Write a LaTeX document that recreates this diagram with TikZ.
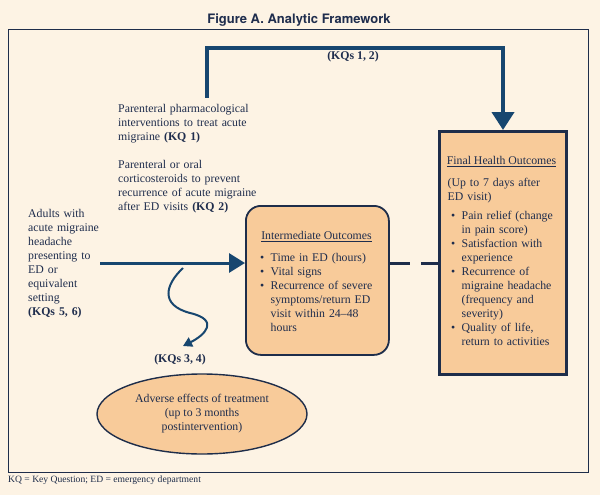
\documentclass[tikz,border=0pt]{standalone}
\usepackage{fontspec}
\setmainfont{Liberation Serif}
\newfontfamily\headfont{TeX Gyre Heros}
\usetikzlibrary{arrows.meta, positioning, shapes.geometric}

\definecolor{pagebg}{HTML}{FDF3E4}
\definecolor{framenavy}{HTML}{1E2D4A}
\definecolor{flowblue}{HTML}{17466F}
\definecolor{inknavy}{HTML}{1F2D4D}
\definecolor{peach}{HTML}{F8CB9A}

% depth-only strut, keeps the line pitch after a wrapped bullet
\newcommand{\dstrut}{\rule[-\dp\strutbox]{0pt}{\dp\strutbox}}
% bullet line, wrapped lines kept under the text
\newcommand{\bitem}[1]{\par\ifdim\prevdepth>-999pt\prevdepth=\dp\strutbox\fi
  \noindent\makebox[14pt][l]{\hspace{3.5pt}\textbullet}\parbox[t]{110pt}{\raggedright #1\dstrut}}

\tikzset{
  bodytext/.style={font=\fontsize{11.8}{14}\selectfont, text=inknavy, inner sep=0pt},
  txtblock/.style={bodytext, anchor=north west, align=left, text width=#1},
  outerframe/.style={draw=framenavy, line width=1.3pt, minimum width=580pt, minimum height=443pt, anchor=north west, inner sep=0pt},
  intbox/.style={draw=framenavy, line width=1.8pt, fill=peach, rounded corners=15pt, minimum width=143pt, minimum height=149pt, anchor=north west, inner sep=0pt},
  finbox/.style={draw=framenavy, line width=3pt, fill=peach, minimum width=127pt, minimum height=243pt, anchor=north west, inner sep=0pt},
  adverse/.style={ellipse, draw=framenavy, line width=1.4pt, fill=peach, minimum width=210pt, minimum height=80pt, inner sep=0pt, align=center, font=\fontsize{11.8}{14}\selectfont, text=inknavy},
  kqlabel/.style={bodytext, font=\fontsize{11.8}{14}\selectfont\bfseries},
  flowtop/.style={draw=flowblue, line width=4pt, -{Triangle[length=18pt,width=22pt]}},
  flowmain/.style={draw=flowblue, line width=3pt, -{Triangle[length=16pt,width=19pt]}},
  flowdash/.style={draw=framenavy, line width=3pt, dash pattern=on 20pt off 11pt},
  flowharm/.style={draw=flowblue, line width=2pt, -{Triangle[length=9pt,width=10pt]}}
}

\begin{document}
\begin{tikzpicture}[x=1pt, y=-1pt]
  \useasboundingbox[fill=pagebg] (0,0) rectangle (600,495);

  % title and frame
  \node[anchor=base, inner sep=0pt, text=inknavy, font=\headfont\fontsize{13}{15}\selectfont\bfseries] (title) at (299,24) {Figure A. Analytic Framework};
  \node[outerframe] (frame) at (8,29) {};

  % boxes
  \node[intbox] (int) at (245,205) {};
  \node[finbox] (fin) at (438,130) {};
  \node[adverse] (harm) at (202,414) {Adverse effects of treatment\\ (up to 3 months\\ postintervention)};

  % texts
  \node[txtblock=80pt] (pop) at (28,209.6) {Adults with\\ acute migraine\\ headache\\ presenting to\\ ED or\\ equivalent\\ setting\\ \textbf{(KQs 5, 6)}};
  \node[txtblock=170pt] (kqone) at (118,104.6) {Parenteral pharmacological\\ interventions to treat acute\\ migraine \textbf{(KQ 1)}};
  \node[txtblock=170pt] (kqtwo) at (118,160.6) {Parenteral or oral\\ corticosteroids to prevent\\ recurrence of acute migraine\\ after ED visits \textbf{(KQ 2)}};

  \node[bodytext, anchor=north] (inttitle) at (316.5,231.6) {\underline{Intermediate Outcomes}};
  \node[txtblock=128pt] (intlist) at (256.5,251.6) {%
    \bitem{Time in ED (hours)}
    \bitem{Vital signs}
    \bitem{Recurrence of severe\\ symptoms/return ED\\ visit within 24--48\\ hours}};

  \node[bodytext, anchor=north] (fintitle) at (501.5,156.6) {\underline{Final Health Outcomes}};
  \node[txtblock=115pt] (finlist) at (447.5,177.6) {(Up to 7 days after\\ ED visit)\dstrut\par\vspace{5pt}%
    \bitem{Pain relief (change\\ in pain score)}
    \bitem{Satisfaction with\\ experience}
    \bitem{Recurrence of\\ migraine headache\\ (frequency and\\ severity)}
    \bitem{Quality of life,\\ return to activities}};

  \node[kqlabel] (kqonetwo) at (353,57) {(KQs 1, 2)};
  \node[kqlabel] (kqthreefour) at (180,360) {(KQs 3, 4)};

  \node[anchor=base west, inner sep=0pt, text=framenavy, font=\fontsize{9.6}{11}\selectfont] (footer) at (8,482) {KQ = Key Question; ED = emergency department};

  % connectors
  \coordinate (kqstart) at (207,98);
  \coordinate (popout) at (100,263);
  \coordinate (harmstart) at (183,268);
  \coordinate (harmend) at (183,346);

  \draw[flowtop] (kqstart) -- ++(0,-50) -| (fin.north);
  \draw[flowmain] (popout) -- (popout -| int.west);
  \draw[flowdash] (popout -| int.east) -- (popout -| fin.west);
  \draw[flowharm] (harmstart) .. controls (165,285) and (160,305) .. (190,313)
    .. controls (220,320) and (205,335) .. (harmend);
\end{tikzpicture}
\end{document}
